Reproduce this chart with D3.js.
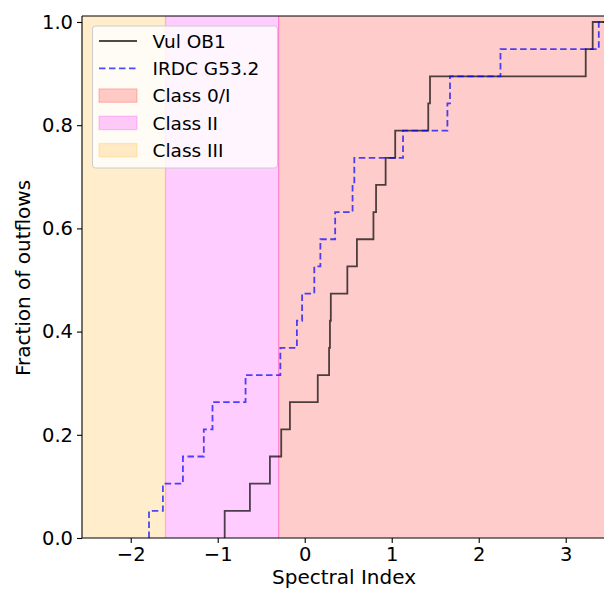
<!DOCTYPE html>
<html>
<head>
<meta charset="utf-8">
<script src="https://cdn.jsdelivr.net/npm/d3@7"></script>
<style>
  html, body { margin: 0; padding: 0; background: #fff; }
  svg { display: block; font-family: "DejaVu Sans", sans-serif; }
</style>
</head>
<body>
<div id="chart"></div>
<script>
// ---- data ----
const vulOB1 = [-0.92, -0.63, -0.40, -0.27, -0.17, 0.15, 0.28, 0.29, 0.30, 0.49, 0.60, 0.79, 0.82, 0.93, 1.04, 1.42, 1.44, 3.23, 3.31];
const irdcG53 = [-1.79, -1.63, -1.40, -1.16, -1.06, -0.68, -0.28, -0.09, -0.03, 0.11, 0.18, 0.35, 0.55, 0.57, 1.13, 1.64, 1.67, 2.25, 3.38];
const seriesNames = ["Vul OB1", "IRDC G53.2"];
const classNames = ["Class 0/I", "Class II", "Class III"];
const classEdges = [[-0.3, 5], [-1.6, -0.3], [-5, -1.6]];
const xTicks = [-2, -1, 0, 1, 2, 3];
const yTicks = [0.0, 0.2, 0.4, 0.6, 0.8, 1.0];

(function () {
// ---- layout ----
const W = 604, H = 590;
const pL = 82, pT = 16, pB = 538;
const xMin = -2.56, xMax = 3.62, yMax = 1.0116;
const pxPerUnit = 87;
const pR = pL + (xMax - xMin) * pxPerUnit;

const x = d3.scaleLinear().domain([xMin, xMax]).range([pL, pR]);
const y = d3.scaleLinear().domain([0, yMax]).range([pB, pT]);

const svg = d3.select("#chart").append("svg").attr("width", W).attr("height", H);

svg.append("defs").append("clipPath").attr("id", "plotclip")
  .append("rect").attr("x", pL).attr("y", pT).attr("width", pR - pL).attr("height", pB - pT);

const classColors = ["#ff0000", "#ff00ff", "#ffa500"];
const plot = svg.append("g").attr("clip-path", "url(#plotclip)");

classEdges.forEach((e, i) => {
  plot.append("rect")
    .attr("x", x(e[0])).attr("y", pT - 2)
    .attr("width", x(e[1]) - x(e[0])).attr("height", pB - pT + 4)
    .attr("fill", classColors[i]).attr("fill-opacity", 0.2)
    .attr("stroke", classColors[i]).attr("stroke-opacity", 0.2).attr("stroke-width", 1.2);
});

// ECDF step lines
function ecdfPoints(vals) {
  const s = vals.slice().sort((a, b) => a - b);
  const n = s.length;
  const pts = [[s[0], 0]];
  s.forEach((v, i) => pts.push([v, (i + 1) / n]));
  pts.push([xMax + 1, 1]);
  return pts;
}
const line = d3.line().x(d => x(d[0])).y(d => y(d[1])).curve(d3.curveStepAfter);

plot.append("path").datum(ecdfPoints(vulOB1))
  .attr("d", line).attr("fill", "none")
  .attr("stroke", "#000").attr("stroke-opacity", 0.7).attr("stroke-width", 1.8);
plot.append("path").datum(ecdfPoints(irdcG53))
  .attr("d", line).attr("fill", "none")
  .attr("stroke", "#0000ff").attr("stroke-opacity", 0.7).attr("stroke-width", 1.8)
  .attr("stroke-dasharray", "6.5,3.5");

// axes
const fs = 19.5;
const xAxis = svg.append("g").attr("transform", `translate(0,${pB})`)
  .call(d3.axisBottom(x).tickValues(xTicks).tickSize(5).tickPadding(4)
    .tickFormat(d => d < 0 ? "\u2212" + Math.abs(d) : String(d)));
const yAxis = svg.append("g").attr("transform", `translate(${pL},0)`)
  .call(d3.axisLeft(y).tickValues(yTicks).tickSize(5).tickPadding(4)
    .tickFormat(d3.format(".1f")));
[xAxis, yAxis].forEach(g => {
  g.select(".domain").remove();
  g.selectAll(".tick line").attr("stroke", "#000").attr("stroke-width", 1.1);
  g.selectAll(".tick text").attr("fill", "#000").attr("font-size", fs)
    .attr("font-family", "DejaVu Sans");
});

// spines
[[pL, pL, pT, pB], [pL, pR, pB, pB], [pL, pR, pT, pT], [pR, pR, pT, pB]].forEach(s => {
  svg.append("line").attr("x1", s[0]).attr("x2", s[1]).attr("y1", s[2]).attr("y2", s[3])
    .attr("stroke", "#000").attr("stroke-width", 1.1);
});

// axis labels
svg.append("text").attr("x", 344).attr("y", 584)
  .attr("text-anchor", "middle").attr("font-size", 20).attr("fill", "#000")
  .text("Spectral Index");
svg.append("text").attr("transform", `translate(30,${(pT + pB) / 2 + 1}) rotate(-90)`)
  .attr("text-anchor", "middle").attr("font-size", 20).attr("fill", "#000")
  .text("Fraction of outflows");

// legend
const lg = svg.append("g");
lg.append("rect").attr("x", 92.5).attr("y", 26).attr("width", 185).attr("height", 142)
  .attr("rx", 3).attr("fill", "#fff").attr("fill-opacity", 0.8)
  .attr("stroke", "#ccc").attr("stroke-width", 1);
const rowY = [41, 68.3, 95.6, 122.9, 150.2];
const legendItems = [
  { label: seriesNames[0], type: "line", color: "#000", dash: null },
  { label: seriesNames[1], type: "line", color: "#0000ff", dash: "6.5,3.5" },
  { label: classNames[0], type: "patch", color: classColors[0] },
  { label: classNames[1], type: "patch", color: classColors[1] },
  { label: classNames[2], type: "patch", color: classColors[2] }
];
legendItems.forEach((it, i) => {
  const cy = rowY[i];
  if (it.type === "line") {
    const l = lg.append("line").attr("x1", 99).attr("x2", 137).attr("y1", cy).attr("y2", cy)
      .attr("stroke", it.color).attr("stroke-opacity", 0.7).attr("stroke-width", 1.8);
    if (it.dash) l.attr("stroke-dasharray", it.dash);
  } else {
    lg.append("rect").attr("x", 99).attr("y", cy - 6.7).attr("width", 38).attr("height", 13.4)
      .attr("fill", it.color).attr("fill-opacity", 0.2)
      .attr("stroke", it.color).attr("stroke-opacity", 0.2).attr("stroke-width", 1.2);
  }
  lg.append("text").attr("x", 152.5).attr("y", cy).attr("dy", "0.36em")
    .attr("font-size", 18.5).attr("fill", "#000").text(it.label);
});
})();
</script>
</body>
</html>
